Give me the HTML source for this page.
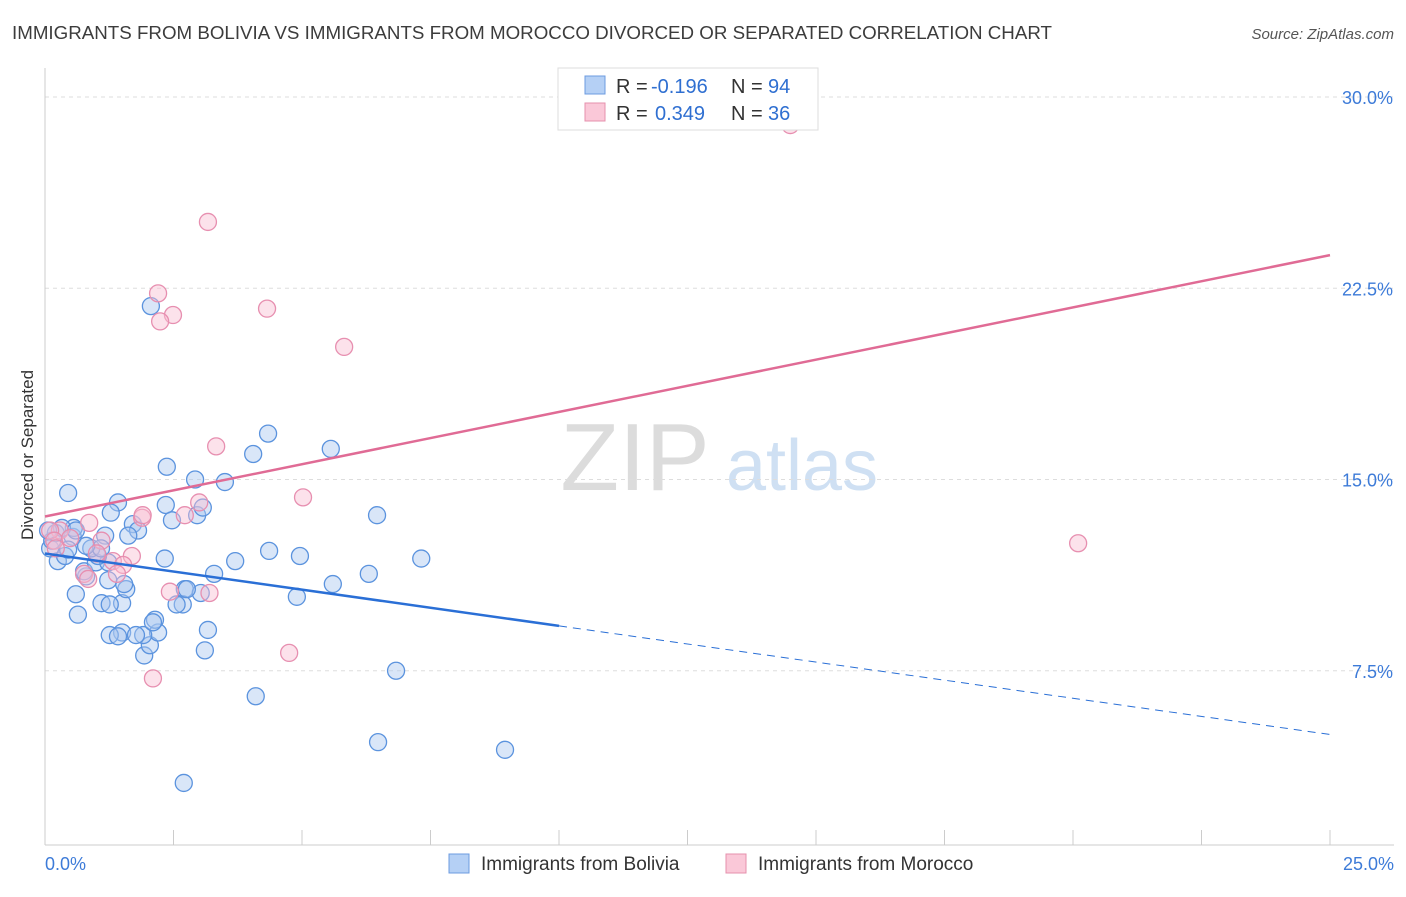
<!DOCTYPE html>
<html><head><meta charset="utf-8"><style>
body{margin:0;background:#fff;font-family:"Liberation Sans",sans-serif;}
svg text{font-family:"Liberation Sans",sans-serif;}
</style></head><body>
<svg id="chart" width="1406" height="892" viewBox="0 0 1406 892" xmlns="http://www.w3.org/2000/svg">
<text x="12" y="39" font-size="18" fill="#3c3c3c" textLength="1040" lengthAdjust="spacingAndGlyphs">IMMIGRANTS FROM BOLIVIA VS IMMIGRANTS FROM MOROCCO DIVORCED OR SEPARATED CORRELATION CHART</text>
<text x="1394" y="39" font-size="15" fill="#555" text-anchor="end" font-style="italic">Source: ZipAtlas.com</text>
<g>
<text x="635" y="490" font-size="96" fill="#dcdcdc" text-anchor="middle" font-family="Liberation Serif">ZIP</text>
<text x="802" y="490" font-size="72" fill="#cfe0f3" text-anchor="middle">atlas</text>
</g>
<g id="grid"></g>
<g id="axes"></g>
<g id="marks"></g>
<text transform="translate(33,455) rotate(-90)" font-size="17" fill="#333" text-anchor="middle">Divorced or Separated</text>
<g>
<rect x="558" y="68" width="260" height="62" fill="#fff" stroke="#ddd"/>
<rect x="585" y="76" width="20" height="18" fill="#b5d0f5" stroke="#6c9be0"/>
<rect x="585" y="103" width="20" height="18" fill="#fac8d8" stroke="#e690ad"/>
<text x="616" y="93" font-size="20" fill="#333">R =</text>
<text x="651" y="93" font-size="20" fill="#2f6fd1">-0.196</text>
<text x="731" y="93" font-size="20" fill="#333">N =</text>
<text x="768" y="93" font-size="20" fill="#2f6fd1">94</text>
<text x="616" y="120" font-size="20" fill="#333">R =</text>
<text x="655" y="120" font-size="20" fill="#2f6fd1">0.349</text>
<text x="731" y="120" font-size="20" fill="#333">N =</text>
<text x="768" y="120" font-size="20" fill="#2f6fd1">36</text>
</g>
<g>
<rect x="449" y="854" width="20" height="19" fill="#b5d0f5" stroke="#6c9be0"/>
<text x="481" y="870" font-size="19" fill="#333">Immigrants from Bolivia</text>
<rect x="726" y="854" width="20" height="19" fill="#fac8d8" stroke="#e690ad"/>
<text x="758" y="870" font-size="19" fill="#333">Immigrants from Morocco</text>
</g>
</svg>
<script>
const yTicks=[7.5,15,22.5,30];
const yTickLabels=["7.5%","15.0%","22.5%","30.0%"];
const xTickLabels=["0.0%","25.0%"];
const boliviaX=[2.06,.45,1.42,2.37,2.92,3.5,4.34,4.05,5.56,6.46,7.32,6.3,5.6,4.96,4.36,4.9,3.7,3.29,2.35,2.47,2.96,3.07,1.28,1.71,1.81,2.33,2.72,2.68,2.56,3.03,2.76,3.17,3.11,4.1,6.83,6.48,8.95,2.7,1.93,2.04,2.2,2.14,1.91,1.5,1.26,1.42,1.77,2.1,.64,.6,1.1,1.5,1.26,1.58,1.54,1.23,.8,.76,.99,1.23,1.03,.9,.54,.56,.25,.39,.1,.14,.21,.33,.6,.06,1.17,1.09,1.62,.8,.45];
const boliviaY=[21.8,14.47,14.1,15.5,15.0,14.9,16.8,16.0,16.2,13.6,11.9,11.3,10.9,12.0,12.2,10.4,11.8,11.3,14.0,13.4,13.6,13.9,13.7,13.25,13.0,11.9,10.7,10.1,10.1,10.55,10.7,9.1,8.3,6.5,7.5,4.7,4.4,3.1,8.1,8.5,9.0,9.5,8.9,9.0,8.9,8.85,8.9,9.4,9.7,10.5,10.15,10.15,10.1,10.7,10.9,11.05,11.2,11.4,11.75,11.75,12.0,12.3,12.75,13.1,11.8,12.0,12.3,12.6,12.9,13.1,13.0,13.0,12.8,12.3,12.8,12.4,12.25];
const moroccoX=[14.5,3.17,2.2,2.49,2.24,4.32,5.82,3.33,5.02,20.1,3.0,2.72,1.89,1.9,.86,.29,.1,.18,.49,1.1,1.01,1.69,1.32,1.52,1.4,.76,.84,3.2,2.43,4.75,2.1,.21];
const moroccoY=[28.9,25.1,22.3,21.45,21.2,21.7,20.2,16.3,14.3,12.5,14.1,13.6,13.5,13.6,13.3,13.0,13.0,12.6,12.7,12.6,12.1,12.0,11.8,11.65,11.3,11.3,11.1,10.55,10.6,8.2,7.2,12.3];
const boliviaTrend=[12.1,5.0];
const moroccoTrend=[13.55,23.8];
const NS="http://www.w3.org/2000/svg";
const X=v=>45+v*51.4, Y=v=>862-v*25.5;
function mk(t,a,p){const e=document.createElementNS(NS,t);for(const k in a)e.setAttribute(k,a[k]);p.appendChild(e);return e;}
const grid=document.getElementById('grid'),axes=document.getElementById('axes'),marks=document.getElementById('marks');
yTicks.forEach((t,i)=>{
 const l=mk('line',{x1:45,x2:1394,y1:Y(t),y2:Y(t),stroke:'#ddd','stroke-dasharray':'4,4'},grid);
 
 
 const tx=mk('text',{x:1393,y:Y(t)+7,'font-size':18,fill:'#3d7bd8','text-anchor':'end'},axes);
 tx.textContent=yTickLabels[i];
 
 
});
mk('line',{x1:45,x2:45,y1:68,y2:845,stroke:'#ccc'},axes);
mk('line',{x1:45,x2:1394,y1:845,y2:845,stroke:'#ccc'},axes);
for(let i=0;i<=10;i++){mk('line',{x1:X(i*2.5),x2:X(i*2.5),y1:830,y2:845,stroke:'#ccc'},axes);}
[[0,'start',45],[25,'end',1394]].forEach((d,i)=>{const t=mk('text',{x:d[2],y:870,'font-size':18,fill:'#3d7bd8','text-anchor':d[1]},axes);t.textContent=xTickLabels[i];
 
 });
boliviaX.forEach((x,i)=>{const c=mk('circle',{cx:X(x),cy:Y(boliviaY[i]),r:8.5,fill:'rgba(170,200,240,0.45)',stroke:'#5b93de','stroke-width':1.3},marks);
 
 });
moroccoX.forEach((x,i)=>{const c=mk('circle',{cx:X(x),cy:Y(moroccoY[i]),r:8.5,fill:'rgba(248,190,210,0.45)',stroke:'#e78fb0','stroke-width':1.3},marks);
 
 });
const bv=x=>boliviaTrend[0]+(boliviaTrend[1]-boliviaTrend[0])*x/25;
let l=mk('line',{x1:X(0),y1:Y(bv(0)),x2:X(10),y2:Y(bv(10)),stroke:'#2a6fd6','stroke-width':2.5},marks);


l=mk('line',{x1:X(10),y1:Y(bv(10)),x2:X(25),y2:Y(bv(25)),stroke:'#2a6fd6','stroke-width':1,'stroke-dasharray':'8,6'},marks);


l=mk('line',{x1:X(0),y1:Y(moroccoTrend[0]),x2:X(25),y2:Y(moroccoTrend[1]),stroke:'#e06b95','stroke-width':2.5},marks);


</script>
</body></html>
